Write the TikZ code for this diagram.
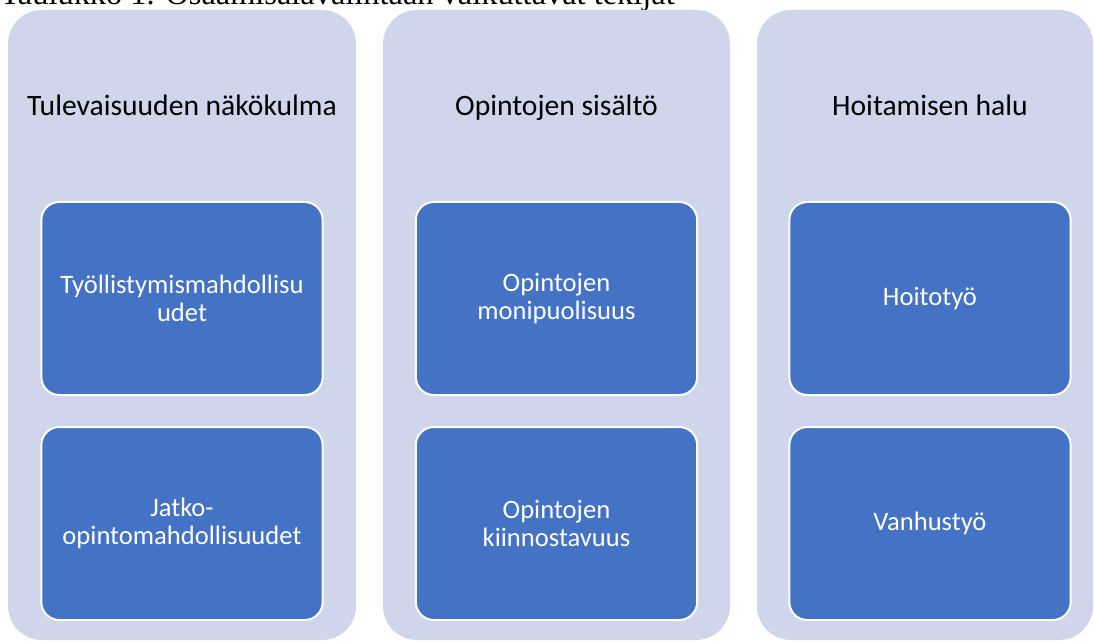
\documentclass[tikz,border=0pt]{standalone}
\usepackage{fontspec}
\setmainfont{Carlito}
\newfontfamily\captionfont{Liberation Serif}
\usetikzlibrary{positioning}

\definecolor{panelgray}{HTML}{CFD5EA}
\definecolor{itemblue}{HTML}{4472C4}

\begin{document}
\begin{tikzpicture}[
  x=0.5pt, y=-0.5pt,
  panel/.style={
    rectangle,
    rounded corners=17pt,
    fill=panelgray,
    minimum height=315pt,
    inner sep=0pt
  },
  header/.style={
    font=\fontsize{14.8}{17}\selectfont,
    text=black,
    anchor=base
  },
  item/.style={
    rectangle,
    rounded corners=9pt,
    draw=white,
    line width=1pt,
    fill=itemblue,
    minimum width=139pt,
    minimum height=96.5pt,
    text width=134pt,
    font=\fontsize{13.3}{14.2}\selectfont,
    text=white,
    align=center
  }
]
\useasboundingbox (0,0) rectangle (1094,642);

% otsikko (yläosa rajautuu pois)
\node[font=\captionfont\fontsize{16.2}{19}\selectfont, anchor=base west, inner sep=0pt] (caption) at (0,5) {Taulukko 1. Osaamisalavalintaan vaikuttavat tekijät};

% sarakkeet
\node[panel, minimum width=174pt] (col1) at (182,325) {};
\node[panel, minimum width=173.5pt] (col2) at (556.5,325) {};
\node[panel, minimum width=168pt] (col3) at (925,325) {};

\node[header] (head1) at (182,116) {Tulevaisuuden näkökulma};
\node[header] (head2) at (556.5,116) {Opintojen sisältö};
\node[header] (head3) at (930,116) {Hoitamisen halu};

% laatikot
\node[item] (work) at (182,298.5) {Työllistymismahdollisu\\udet};
\node[item, below=15pt of work] (further) {Jatko-\\opintomahdollisuudet};

\node[item] (variety) at (556.5,298.5) {Opintojen\\monipuolisuus};
\node[item, below=15pt of variety] (interest) {Opintojen\\kiinnostavuus};

\node[item] (care) at (930,298.5) {Hoitotyö};
\node[item, below=15pt of care] (elderly) {Vanhustyö};

\end{tikzpicture}
\end{document}
